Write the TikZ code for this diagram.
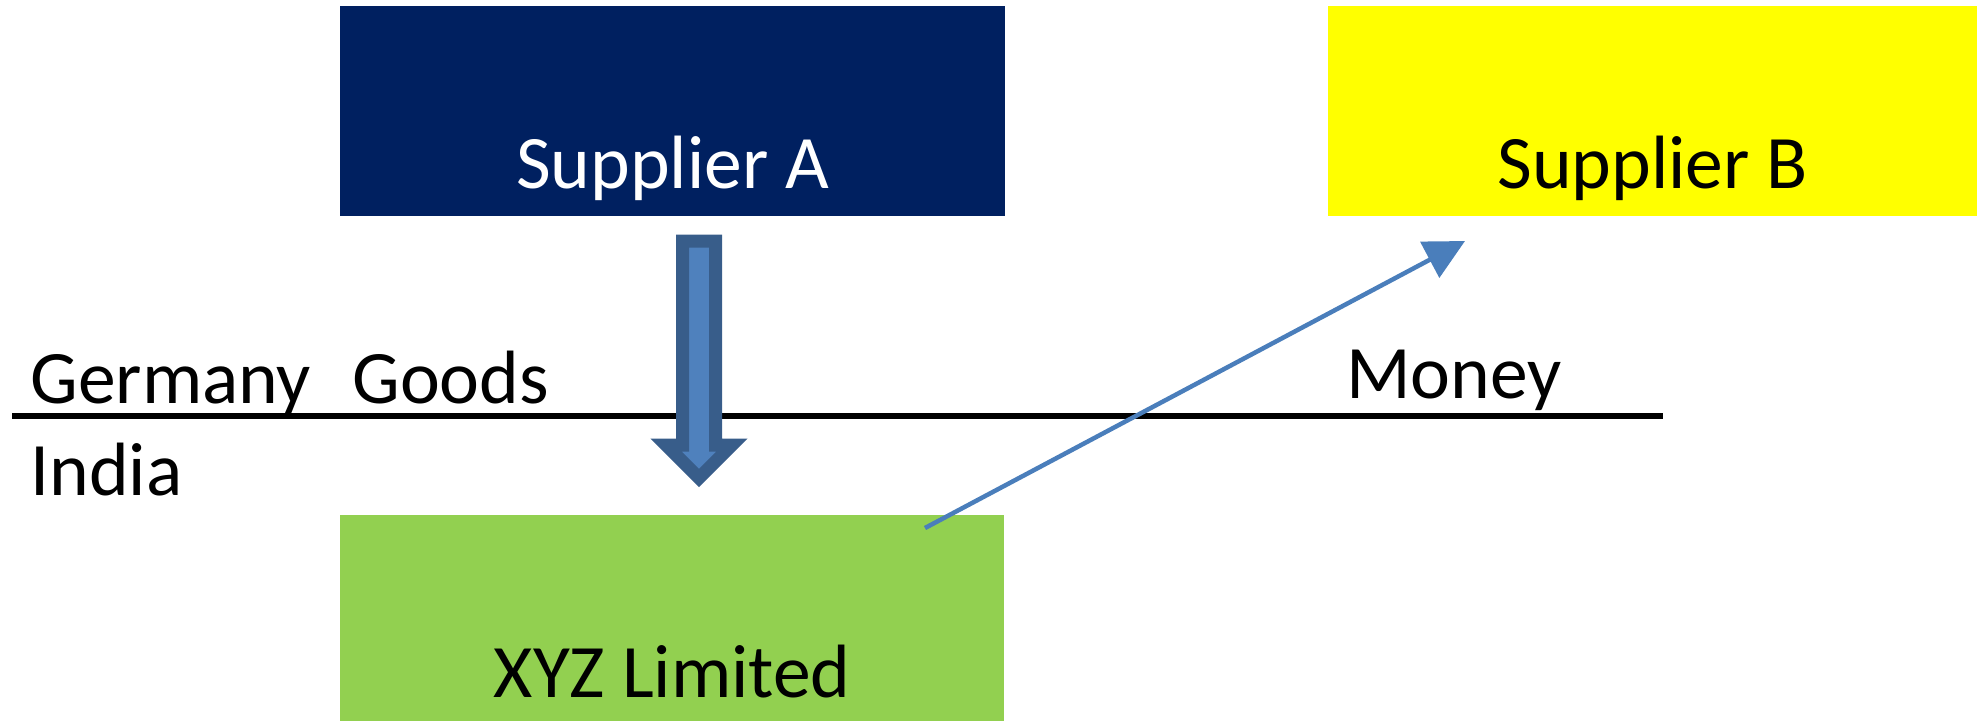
\documentclass[tikz,border=0pt]{standalone}
\usepackage{fontspec}
\setmainfont{Carlito}
\usetikzlibrary{arrows.meta, calc}

\definecolor{navyA}{HTML}{002060}
\definecolor{yellowB}{HTML}{FFFF00}
\definecolor{greenXYZ}{HTML}{92D050}
\definecolor{goodsfill}{HTML}{4F81BD}
\definecolor{goodsline}{HTML}{385D8A}
\definecolor{moneyline}{HTML}{4A7EBB}

\tikzset{
	bigfont/.style={font=\fontsize{43pt}{50pt}\selectfont},
	supplierbox/.style={bigfont, anchor=north west, inner sep=0pt, text height=3.64cm},
	word/.style={bigfont, anchor=base west, inner sep=0pt},
	goodsarrow/.style={draw=goodsline, fill=goodsfill, line width=0.26cm, line join=miter},
	moneyarrow/.style={draw=moneyline, line width=0.09cm, -{Triangle[length=0.8cm, width=0.8cm]}}
}

\begin{document}
\begin{tikzpicture}[x=0.02cm, y=-0.02cm]
	\useasboundingbox (0,0) rectangle (1977,721);
	%Supplier A
		\node (supplierA) [supplierbox, fill=navyA, text=white, minimum width=13.3cm, text depth=0.56cm] at (340,6) {Supplier A};
	%Supplier B
		\node (supplierB) [supplierbox, fill=yellowB, minimum width=12.98cm, text depth=0.56cm] at (1328,6) {Supplier B};
	%XYZ Limited
		\node (xyz) [supplierbox, fill=greenXYZ, minimum width=13.28cm, text depth=0.48cm] at (340,515) {XYZ Limited};
	%Border Germany/India
		\coordinate (borderW) at (12,416);
		\coordinate (borderE) at (1663,416);
		\draw[line width=0.11cm] (borderW) -- (borderE);
		\node (germany) [word] at (30,403) {Germany};
		\node (india) [word] at (30,495) {India};
	%Goods
		\node (goods) [word] at (352,403) {Goods};
		\coordinate (goodsS) at (699,241);
		\coordinate (goodsE) at (699,478);
		\draw[goodsarrow] ($(goodsS)+(-16.5,0)$) -- ($(goodsE)+(-16.5,-33)$) -- ++(-16.5,0)
			-- (goodsE) -- ($(goodsE)+(33,-33)$) -- ++(-16.5,0) -- ($(goodsS)+(16.5,0)$) -- cycle;
	%Money
		\node (money) [word] at (1346,398) {Money};
		\coordinate (moneyS) at (925,528);
		\coordinate (moneyE) at (1465,241);
		\draw[moneyarrow] (moneyS) -- (moneyE);
\end{tikzpicture}
\end{document}
